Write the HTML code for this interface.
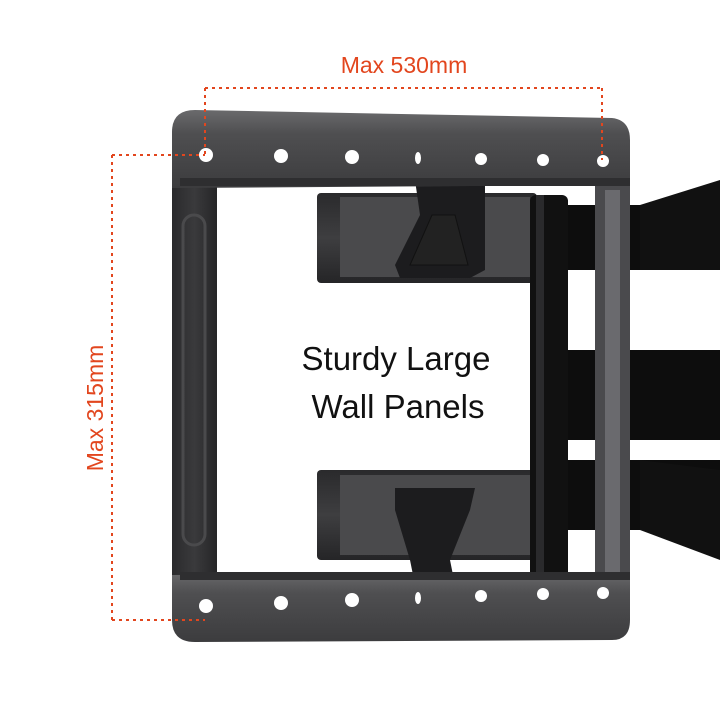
<!DOCTYPE html>
<html><head><meta charset="utf-8"><style>
html,body{margin:0;padding:0;background:#fff;}
svg{display:block}
</style></head><body>
<svg width="720" height="720" viewBox="0 0 720 720" xmlns="http://www.w3.org/2000/svg">
<defs>
<linearGradient id="rail" x1="0" y1="0" x2="0" y2="1">
<stop offset="0" stop-color="#6a6a6c"/><stop offset="0.3" stop-color="#4f4f51"/><stop offset="1" stop-color="#3c3c3e"/></linearGradient>
<linearGradient id="arm" x1="0" y1="0" x2="0" y2="1">
<stop offset="0" stop-color="#2a2a2c"/><stop offset="0.5" stop-color="#3e3e40"/><stop offset="1" stop-color="#252527"/></linearGradient>
<linearGradient id="bar" x1="0" y1="0" x2="1" y2="0">
<stop offset="0" stop-color="#2a2a2c"/><stop offset="0.5" stop-color="#3a3a3c"/><stop offset="1" stop-color="#252527"/></linearGradient>
</defs>
<rect x="560" y="205" width="160" height="65" fill="#0d0d0d"/>
<polygon points="640,205 720,180 720,270 640,270" fill="#111"/>
<rect x="560" y="350" width="160" height="90" fill="#0d0d0d"/>
<rect x="560" y="460" width="160" height="70" fill="#0d0d0d"/>
<polygon points="640,460 720,470 720,560 640,530" fill="#111"/>
<rect x="595" y="185" width="35" height="395" fill="#4a4a4d"/>
<rect x="605" y="190" width="15" height="385" fill="#6a6a6e"/>
<rect x="172" y="185" width="45" height="395" fill="url(#bar)"/>
<rect x="183" y="215" width="22" height="330" rx="11" fill="none" stroke="#4a4a4c" stroke-width="3"/>
<rect x="317" y="193" width="220" height="90" rx="4" fill="url(#arm)"/>
<rect x="340" y="197" width="190" height="80" fill="#4a4a4c"/>
<polygon points="415,180 485,180 485,270 470,278 400,278 395,265 420,215" fill="#1c1c1e"/>
<polygon points="432,215 455,215 468,265 410,265" fill="#222" stroke="#111"/>
<rect x="317" y="470" width="220" height="90" rx="4" fill="url(#arm)"/>
<rect x="340" y="475" width="190" height="80" fill="#4a4a4c"/>
<polygon points="395,488 475,488 470,510 450,560 455,585 415,585 410,560 395,510" fill="#1c1c1e"/>
<rect x="530" y="195" width="38" height="390" rx="6" fill="#111"/>
<rect x="536" y="195" width="8" height="390" fill="#2a2a2c"/>
<path d="M195,110 L612,118 Q630,120 630,140 L630,185 L172,188 L172,132 Q172,110 195,110 Z" fill="url(#rail)"/>
<rect x="180" y="178" width="450" height="8" fill="#2e2e30"/>
<path d="M172,575 L630,572 L630,620 Q630,640 612,640 L195,642 Q172,642 172,620 Z" fill="url(#rail)"/>
<rect x="180" y="572" width="450" height="8" fill="#2e2e30"/>
<g fill="#fff">
<ellipse cx="206" cy="155" rx="7" ry="7"/><ellipse cx="281" cy="156" rx="7" ry="7"/><ellipse cx="352" cy="157" rx="7" ry="7"/><ellipse cx="418" cy="158" rx="3" ry="6"/><ellipse cx="481" cy="159" rx="6" ry="6"/><ellipse cx="543" cy="160" rx="6" ry="6"/><ellipse cx="603" cy="161" rx="6" ry="6"/>
<ellipse cx="206" cy="606" rx="7" ry="7"/><ellipse cx="281" cy="603" rx="7" ry="7"/><ellipse cx="352" cy="600" rx="7" ry="7"/><ellipse cx="418" cy="598" rx="3" ry="6"/><ellipse cx="481" cy="596" rx="6" ry="6"/><ellipse cx="543" cy="594" rx="6" ry="6"/><ellipse cx="603" cy="593" rx="6" ry="6"/>
</g>
<g stroke="#e2461e" stroke-width="2" stroke-dasharray="3,4" fill="none">
<path d="M205,88 L602,88 M205,88 L205,155 M602,88 L602,160"/>
<path d="M112,155 L205,155 M112,620 L205,620 M112,155 L112,620"/>
</g>
<text x="404" y="73" text-anchor="middle" font-family="Liberation Sans, sans-serif" font-size="23" fill="#e2461e">Max 530mm</text>
<text transform="translate(103,408) rotate(-90)" text-anchor="middle" font-family="Liberation Sans, sans-serif" font-size="23" fill="#e2461e">Max 315mm</text>
<text x="396" y="370" text-anchor="middle" font-family="Liberation Sans, sans-serif" font-size="33" fill="#111">Sturdy Large</text>
<text x="398" y="418" text-anchor="middle" font-family="Liberation Sans, sans-serif" font-size="33" fill="#111">Wall Panels</text>
</svg>
</body></html>
